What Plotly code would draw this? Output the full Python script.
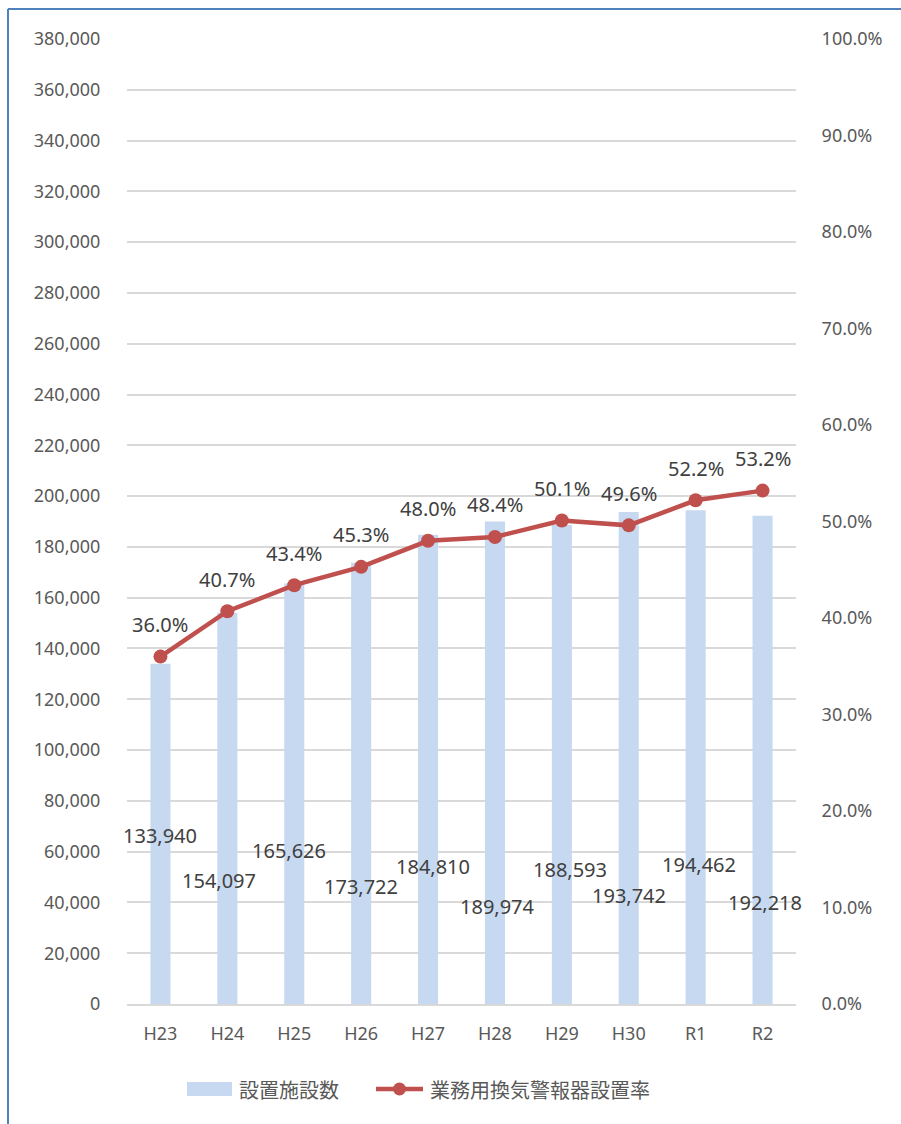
import plotly.graph_objects as go

categories = ["H23", "H24", "H25", "H26", "H27", "H28", "H29", "H30", "R1", "R2"]
facilities = [133940, 154097, 165626, 173722, 184810, 189974, 188593, 193742, 194462, 192218]
rates = [0.360, 0.407, 0.434, 0.453, 0.480, 0.484, 0.501, 0.496, 0.522, 0.532]
bar_label_y = [66500, 48800, 60300, 46100, 54300, 38200, 52800, 42900, 55100, 39800]
bar_label_dx = [0, -8, -5, 0, 5, 3, 8, 0, 3, 2]
legend_names = ["設置施設数", "業務用換気警報器設置率"]

bar_color = "#C6D9F0"
line_color = "#C0504D"
tick_color = "#595959"
label_color = "#404040"
border_color = "#4F81BD"
font_fam = "Noto Sans, Noto Sans CJK JP, sans-serif"
cjk_fam = "Noto Sans CJK JP, Noto Sans, sans-serif"

W, H = 901, 1124
L, R, T, B = 127, 105, 39, 120
PW, PH = W - L - R, H - T - B


def px(x):
    return (x - L) / PW


def py(y):
    return (H - B - y) / PH


fig = go.Figure()
fig.add_trace(go.Bar(
    x=categories, y=facilities, name=legend_names[0],
    marker=dict(color=bar_color, line=dict(width=0)),
    width=0.3, yaxis="y", showlegend=False,
))
fig.add_trace(go.Scatter(
    x=categories, y=rates, name=legend_names[1],
    mode="lines+markers",
    line=dict(color=line_color, width=4.5),
    marker=dict(color=line_color, size=14),
    yaxis="y2", cliponaxis=False, showlegend=False,
))

for c, r in zip(categories, rates):
    fig.add_annotation(x=c, y=r, xref="x", yref="y2", text=f"{r*100:.1f}%",
                       showarrow=False, yshift=32,
                       font=dict(size=20, color=label_color, family=font_fam))

for c, v, ly, dx in zip(categories, facilities, bar_label_y, bar_label_dx):
    fig.add_annotation(x=c, y=ly, xref="x", yref="y", text=f"{v:,}",
                       showarrow=False, xshift=dx,
                       font=dict(size=20, color=label_color, family=font_fam))

fig.update_layout(
    width=W, height=H,
    margin=dict(l=L, r=R, t=T, b=B),
    paper_bgcolor="white", plot_bgcolor="white",
    font=dict(family=font_fam, color=tick_color, size=18),
    showlegend=False,
    xaxis=dict(range=[-0.5, len(categories) - 0.5], autorange=False,
               showgrid=False, showline=True, linecolor="#D9D9D9", linewidth=2,
               ticks="outside", ticklen=12, tickcolor="rgba(0,0,0,0)",
               tickfont=dict(size=18, color=tick_color)),
    yaxis=dict(range=[0, 380000], dtick=20000, tickformat=",d",
               showgrid=True, gridcolor="#D9D9D9", gridwidth=1.5,
               zeroline=False, showline=False,
               ticks="outside", ticklen=22, tickcolor="rgba(0,0,0,0)",
               tickfont=dict(size=18, color=tick_color)),
    yaxis2=dict(range=[0, 1.0], dtick=0.1, tickformat=".1%", overlaying="y",
                side="right", showgrid=False, zeroline=False, showline=False,
                ticks="outside", ticklen=21, tickcolor="rgba(0,0,0,0)",
                tickfont=dict(size=18, color=tick_color)),
)

# manual legend (Excel style)
fig.add_shape(type="rect", xref="paper", yref="paper",
              x0=px(187), x1=px(232), y0=py(1096), y1=py(1082),
              fillcolor=bar_color, line=dict(width=0))
fig.add_annotation(xref="paper", yref="paper", x=px(237), y=py(1089),
                   xanchor="left", yanchor="middle", showarrow=False,
                   text=legend_names[0],
                   font=dict(size=20, color=tick_color, family=cjk_fam))
fig.add_shape(type="line", xref="paper", yref="paper",
              x0=px(376), x1=px(423), y0=py(1089), y1=py(1089),
              line=dict(color=line_color, width=4.5))
fig.add_shape(type="circle", xref="paper", yref="paper",
              x0=px(393), x1=px(406), y0=py(1095.5), y1=py(1082.5),
              fillcolor=line_color, line=dict(width=0))
fig.add_annotation(xref="paper", yref="paper", x=px(428), y=py(1089),
                   xanchor="left", yanchor="middle", showarrow=False,
                   text=legend_names[1],
                   font=dict(size=20, color=tick_color, family=cjk_fam))

# chart border (partially visible in the reference)
fig.add_shape(type="line", xref="paper", yref="paper",
              x0=px(8), x1=px(8), y0=py(H + 5), y1=py(9),
              line=dict(color=border_color, width=2))
fig.add_shape(type="line", xref="paper", yref="paper",
              x0=px(8), x1=px(W + 5), y0=py(9), y1=py(9),
              line=dict(color=border_color, width=2))

fig.write_html("out.html", config={"displayModeBar": False},
               post_script="document.body.style.margin='0';document.body.style.overflow='hidden';")
